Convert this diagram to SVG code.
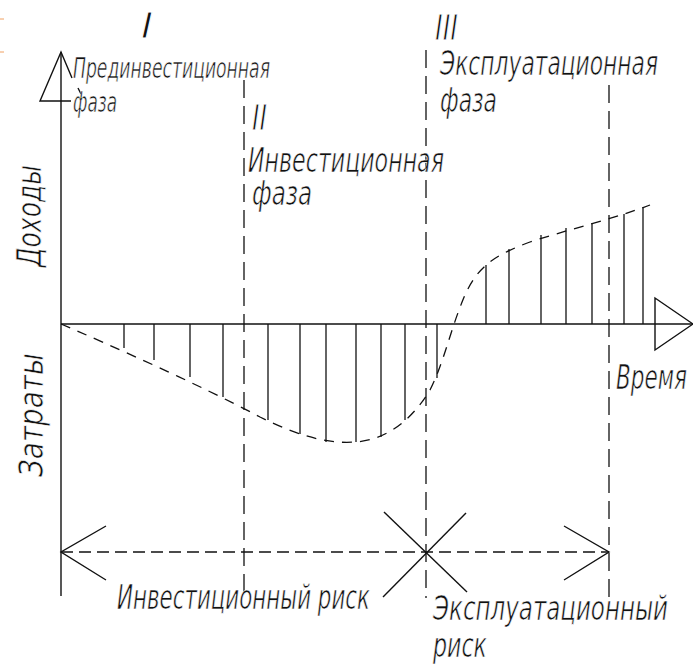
<svg xmlns="http://www.w3.org/2000/svg" width="693" height="666" viewBox="0 0 693 666">
<style>
.ln{stroke:#111;stroke-width:1.4;fill:none}
.h{stroke:#111;stroke-width:1.3;fill:none}
.dv{stroke:#111;stroke-width:1.3;fill:none;stroke-dasharray:18 8}
.dc{stroke:#111;stroke-width:1.3;fill:none;stroke-dasharray:10 8}
.dh{stroke:#111;stroke-width:1.3;fill:none;stroke-dasharray:12 6}
text{font-family:"DejaVu Sans","Liberation Sans",sans-serif;font-style:italic;fill:#111;font-size:33px;stroke:#fff;stroke-width:0.7}
.s{font-size:29px}
.n{font-size:25px}
</style>
<rect width="693" height="666" fill="#fff"/>
<g id="marks">
<line x1="0" y1="19" x2="4" y2="19" stroke="#f0a060" stroke-width="1"/>
<line x1="0" y1="52" x2="4" y2="52" stroke="#f0a060" stroke-width="1"/>
</g>
<g id="phase-lines">
<line class="dv" x1="244" y1="80" x2="244" y2="598"/>
<line class="dv" x1="426" y1="50" x2="426" y2="598"/>
<line class="dv" x1="609" y1="85" x2="609" y2="598"/>
</g>
<g id="axes">
<line class="ln" x1="61" y1="52" x2="61" y2="596"/>
<polyline class="ln" points="72,78 61,52 40,101 71,101"/>
<line class="ln" x1="78" y1="88" x2="81" y2="94"/>
<line class="ln" x1="61" y1="324" x2="693" y2="324"/>
<polygon class="ln" points="655,298 693,324 655,350"/>
</g>
<g id="curve">
<path class="dc" d="M61,324 C110,345 200,385 260,417 C300,437 330,444 355,442 C390,440 415,415 430,390 C445,360 450,330 465,295 C478,266 495,255 530,242 C580,226 610,220 650,205"/>
</g>
<g id="hatching">
<line class="h" x1="124" y1="324" x2="124" y2="348"/>
<line class="h" x1="154" y1="324" x2="154" y2="360"/>
<line class="h" x1="190" y1="324" x2="190" y2="377"/>
<line class="h" x1="223" y1="324" x2="223" y2="397"/>
<line class="h" x1="268" y1="324" x2="268" y2="420"/>
<line class="h" x1="300" y1="324" x2="300" y2="434"/>
<line class="h" x1="326" y1="324" x2="326" y2="442"/>
<line class="h" x1="356" y1="324" x2="356" y2="442"/>
<line class="h" x1="381" y1="324" x2="381" y2="437"/>
<line class="h" x1="405" y1="324" x2="405" y2="420"/>
<line class="h" x1="437" y1="324" x2="437" y2="378"/>
<line class="h" x1="486" y1="324" x2="486" y2="265"/>
<line class="h" x1="509" y1="324" x2="509" y2="249"/>
<line class="h" x1="541" y1="324" x2="541" y2="235"/>
<line class="h" x1="566" y1="324" x2="566" y2="228"/>
<line class="h" x1="592" y1="324" x2="592" y2="223"/>
<line class="h" x1="624" y1="324" x2="624" y2="214"/>
<line class="h" x1="643" y1="324" x2="643" y2="207"/>
</g>
<g id="risk">
<line class="dh" x1="61" y1="552" x2="609" y2="552"/>
<polyline class="ln" points="106,526 61,552 106,580"/>
<polyline class="ln" points="564,526 609,552 564,580"/>
<line class="ln" x1="384" y1="512" x2="467" y2="592"/>
<line class="ln" x1="466" y1="513" x2="383" y2="597"/>
</g>
<g id="labels">
<text class="n" transform="translate(141,38) scale(1,1.45)" textLength="12" lengthAdjust="spacingAndGlyphs">I</text>
<text class="s" x="73" y="78" textLength="197" lengthAdjust="spacingAndGlyphs">Прединвестиционная</text>
<text class="s" x="73" y="112" textLength="44" lengthAdjust="spacingAndGlyphs">фаза</text>
<text class="n" transform="translate(252,130) scale(1,1.45)" textLength="15" lengthAdjust="spacingAndGlyphs">II</text>
<text x="248" y="172" textLength="196" lengthAdjust="spacingAndGlyphs">Инвестиционная</text>
<text x="252" y="205" textLength="60" lengthAdjust="spacingAndGlyphs">фаза</text>
<text class="n" transform="translate(435,40) scale(1,1.45)" textLength="23" lengthAdjust="spacingAndGlyphs">III</text>
<text x="440" y="75" textLength="218" lengthAdjust="spacingAndGlyphs">Эксплуатационная</text>
<text x="440" y="112" textLength="57" lengthAdjust="spacingAndGlyphs">фаза</text>
<text transform="translate(41,267) rotate(-90)" textLength="102" lengthAdjust="spacingAndGlyphs">Доходы</text>
<text transform="translate(43,477) rotate(-90)" textLength="124" lengthAdjust="spacingAndGlyphs">Затраты</text>
<text x="616" y="389" textLength="71" lengthAdjust="spacingAndGlyphs">Время</text>
<text x="117" y="609" textLength="253" lengthAdjust="spacingAndGlyphs">Инвестиционный риск</text>
<text x="433" y="620" textLength="235" lengthAdjust="spacingAndGlyphs">Эксплуатационный</text>
<text x="433" y="657" textLength="54" lengthAdjust="spacingAndGlyphs">риск</text>
</g>
</svg>
